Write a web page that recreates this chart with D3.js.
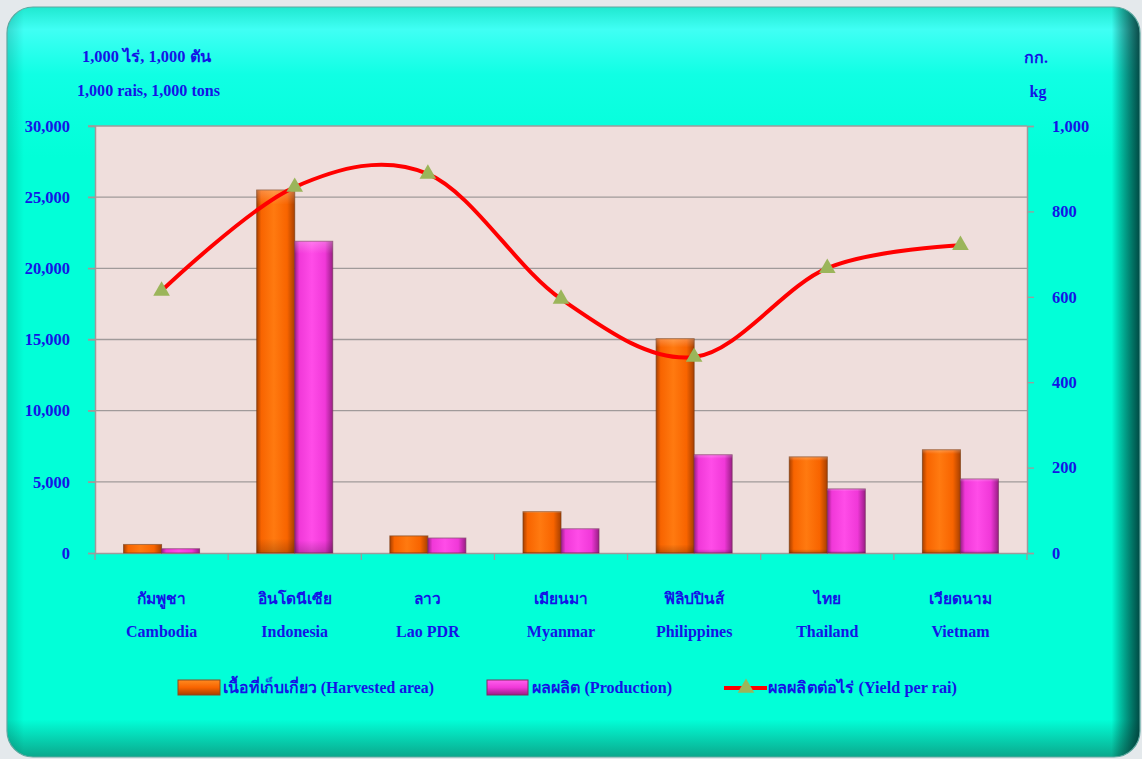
<!DOCTYPE html>
<html><head><meta charset="utf-8">
<script src="https://cdn.jsdelivr.net/npm/d3@7"></script>
<style>
html,body{margin:0;padding:0;background:#E4E9EC;}
svg{display:block;}
text{font-family:"Liberation Serif","Times New Roman",serif;font-weight:bold;fill:#1414E6;}
</style></head>
<body>
<svg id="chart" width="1142" height="759"></svg>
<script>
const categoriesTh = ["กัมพูชา","อินโดนีเซีย","ลาว","เมียนมา","ฟิลิปปินส์","ไทย","เวียดนาม"];
const categoriesEn = ["Cambodia","Indonesia","Lao PDR","Myanmar","Philippines","Thailand","Vietnam"];
const harvestedArea = [600, 25500, 1200, 2900, 15050, 6750, 7250];
const production = [300, 21900, 1050, 1700, 6900, 4500, 5200];
const yieldPerRai = [614, 857, 888, 595, 459, 667, 721];
const leftTicks = [0, 5000, 10000, 15000, 20000, 25000, 30000];
const rightTicks = [0, 200, 400, 600, 800, 1000];
const seriesNames = ["เนื้อที่เก็บเกี่ยว (Harvested area)", "ผลผลิต (Production)", "ผลผลิตต่อไร่ (Yield per rai)"];

const svg = d3.select("#chart");
const defs = svg.append("defs");

// Panel
const panel = {x:7, y:7, w:1133, h:750, r:26};
defs.append("clipPath").attr("id","panelClip").append("rect")
  .attr("x",panel.x).attr("y",panel.y).attr("width",panel.w).attr("height",panel.h).attr("rx",panel.r);
const gTop = defs.append("linearGradient").attr("id","gTop").attr("x1",0).attr("y1",0).attr("x2",0).attr("y2",1);
gTop.append("stop").attr("offset","0").attr("stop-color","#20E8D0");
gTop.append("stop").attr("offset","0.03").attr("stop-color","#40FFF4");
gTop.append("stop").attr("offset","0.09").attr("stop-color","#10FFE4");
gTop.append("stop").attr("offset","0.2").attr("stop-color","#02FFD8");
gTop.append("stop").attr("offset","0.95").attr("stop-color","#02FFD8");
gTop.append("stop").attr("offset","1").attr("stop-color","#0AA88C");
const gRight = defs.append("linearGradient").attr("id","gRight").attr("x1",0).attr("y1",0).attr("x2",1).attr("y2",0);
gRight.append("stop").attr("offset","0").attr("stop-color","#000").attr("stop-opacity",0.15);
gRight.append("stop").attr("offset","0.015").attr("stop-color","#000").attr("stop-opacity",0);
gRight.append("stop").attr("offset","0.975").attr("stop-color","#000").attr("stop-opacity",0);
gRight.append("stop").attr("offset","1").attr("stop-color","#002A2A").attr("stop-opacity",0.85);

const pg = svg.append("g").attr("clip-path","url(#panelClip)");
pg.append("rect").attr("x",panel.x).attr("y",panel.y).attr("width",panel.w).attr("height",panel.h).attr("fill","url(#gTop)");
pg.append("rect").attr("x",panel.x).attr("y",panel.y).attr("width",panel.w).attr("height",panel.h).attr("fill","url(#gRight)");
svg.append("rect").attr("x",panel.x).attr("y",panel.y).attr("width",panel.w).attr("height",panel.h).attr("rx",panel.r)
  .attr("fill","none").attr("stroke","#5FA8A0").attr("stroke-width",1.2);

// Plot geometry
const plot = {l:95, r:1027, t:126, b:553};
const x = d3.scaleBand().domain(categoriesEn).range([plot.l, plot.r]).paddingInner(0).paddingOuter(0);
const yL = d3.scaleLinear().domain([0,30000]).range([plot.b, plot.t]);
const yR = d3.scaleLinear().domain([0,1000]).range([plot.b, plot.t]);

svg.append("rect").attr("x",plot.l).attr("y",plot.t).attr("width",plot.r-plot.l).attr("height",plot.b-plot.t).attr("fill","#EFDEDC");

// gridlines
svg.append("g").selectAll("line").data(leftTicks.filter(d=>d>0)).join("line")
  .attr("x1",plot.l-7).attr("x2",plot.r).attr("y1",d=>yL(d)).attr("y2",d=>yL(d))
  .attr("stroke","#A09A9A").attr("stroke-width",1.3);

// Axes
const axL = svg.append("g").attr("transform",`translate(${plot.l},0)`)
  .call(d3.axisLeft(yL).tickValues(leftTicks).tickFormat(d3.format(",")).tickSize(7).tickPadding(18));
const axR = svg.append("g").attr("transform",`translate(${plot.r},0)`)
  .call(d3.axisRight(yR).tickValues(rightTicks).tickFormat(d3.format(",")).tickSize(7).tickPadding(18));
const axB = svg.append("g").attr("transform",`translate(0,${plot.b})`)
  .call(d3.axisBottom(x).tickSize(0).tickFormat(""));
[axL,axR,axB].forEach(a=>{
  a.selectAll("path.domain").attr("stroke","#A09A9A").attr("stroke-width",1.5);
  a.selectAll(".tick line").attr("stroke","#A09A9A").attr("stroke-width",1.3);
  a.selectAll(".tick text").attr("font-size",16.5).attr("font-family","'Liberation Serif',serif").attr("font-weight","bold").attr("fill","#1414E6");
});
// category boundary ticks
const bounds = d3.range(categoriesEn.length+1).map(i=>plot.l + i*x.step());
svg.append("g").selectAll("line").data(bounds).join("line")
  .attr("x1",d=>d).attr("x2",d=>d).attr("y1",plot.b).attr("y2",plot.b+7)
  .attr("stroke","#A09A9A").attr("stroke-width",1.3);

// Bar gradients
function barGrad(id, edge, mid, light){
  const g = defs.append("linearGradient").attr("id",id).attr("x1",0).attr("x2",1).attr("y1",0).attr("y2",0);
  g.append("stop").attr("offset","0").attr("stop-color",edge);
  g.append("stop").attr("offset","0.12").attr("stop-color",mid);
  g.append("stop").attr("offset","0.45").attr("stop-color",light);
  g.append("stop").attr("offset","0.8").attr("stop-color",mid);
  g.append("stop").attr("offset","1").attr("stop-color",edge);
}
barGrad("gOrange","#A84000","#F86400","#FF7A10");
barGrad("gPink","#9A1E86","#F038D8","#FF4CE8");
const gShade = defs.append("linearGradient").attr("id","gShade").attr("x1",0).attr("x2",0).attr("y1",0).attr("y2",1);
gShade.append("stop").attr("offset","0").attr("stop-color","#fff").attr("stop-opacity",0.25);
gShade.append("stop").attr("offset","0.04").attr("stop-color","#fff").attr("stop-opacity",0);
gShade.append("stop").attr("offset","0.96").attr("stop-color","#000").attr("stop-opacity",0);
gShade.append("stop").attr("offset","1").attr("stop-color","#000").attr("stop-opacity",0.2);
// legend swatch gradient (vertical bevel)
function swGrad(id, edge, mid, light){
  const g = defs.append("linearGradient").attr("id",id).attr("x1",0).attr("x2",0).attr("y1",0).attr("y2",1);
  g.append("stop").attr("offset","0").attr("stop-color",light);
  g.append("stop").attr("offset","0.5").attr("stop-color",mid);
  g.append("stop").attr("offset","1").attr("stop-color",edge);
}
swGrad("sOrange","#A84000","#F86400","#FF8A20");
swGrad("sPink","#9A1E86","#F038D8","#FF60EC");

const barW = 38;
const bars = [
  {vals: harvestedArea, fill:"url(#gOrange)", stroke:"#7A3A10", off:-barW},
  {vals: production, fill:"url(#gPink)", stroke:"#7A3060", off:0}
];
bars.forEach(s=>{
  const g = svg.append("g");
  const data = categoriesEn.map((c,i)=>({c, v:s.vals[i]}));
  g.selectAll("rect.b").data(data).join("rect").attr("class","b")
    .attr("x",d=>x(d.c)+x.bandwidth()/2+s.off).attr("width",barW)
    .attr("y",d=>yL(d.v)).attr("height",d=>plot.b-yL(d.v))
    .attr("fill",s.fill).attr("stroke",s.stroke).attr("stroke-width",1).attr("stroke-opacity",0.7);
  g.selectAll("rect.s").data(data).join("rect").attr("class","s")
    .attr("x",d=>x(d.c)+x.bandwidth()/2+s.off).attr("width",barW)
    .attr("y",d=>yL(d.v)).attr("height",d=>plot.b-yL(d.v))
    .attr("fill","url(#gShade)");
});

// Yield line
const pts = categoriesEn.map((c,i)=>[x(c)+x.bandwidth()/2, yR(yieldPerRai[i])]);
svg.append("path").attr("d", d3.line().curve(d3.curveCardinal.tension(0))(pts))
  .attr("fill","none").attr("stroke","#FF0000").attr("stroke-width",4);
const tri = d3.symbol().type(d3.symbolTriangle).size(120);
svg.append("g").selectAll("path").data(pts).join("path")
  .attr("transform",d=>`translate(${d[0]},${d[1]})`).attr("d",tri).attr("fill","#9BB55A");

// Category labels
svg.append("g").selectAll("text").data(categoriesTh).join("text")
  .attr("x",(d,i)=>x(categoriesEn[i])+x.bandwidth()/2).attr("y",604)
  .attr("text-anchor","middle").attr("font-size",15.5).text(d=>d);
svg.append("g").selectAll("text").data(categoriesEn).join("text")
  .attr("x",d=>x(d)+x.bandwidth()/2).attr("y",637)
  .attr("text-anchor","middle").attr("font-size",16).text(d=>d);

// Axis unit labels
svg.append("text").attr("x",82).attr("y",62).attr("font-size",16).attr("textLength",129).attr("lengthAdjust","spacingAndGlyphs").text("1,000 ไร่,  1,000 ตัน");
svg.append("text").attr("x",77).attr("y",96).attr("font-size",16).attr("textLength",143).attr("lengthAdjust","spacingAndGlyphs").text("1,000 rais, 1,000 tons");
svg.append("text").attr("x",1036).attr("y",63).attr("font-size",16).attr("text-anchor","middle").text("กก.");
svg.append("text").attr("x",1038).attr("y",97).attr("font-size",16).attr("text-anchor","middle").text("kg");

// Legend
const lg = svg.append("g");
const lgY = 688;
lg.append("rect").attr("x",178).attr("y",lgY-8).attr("width",42).attr("height",15).attr("fill","url(#sOrange)").attr("stroke","#8A4A20");
lg.append("text").attr("x",223).attr("y",lgY+5).attr("font-size",16).attr("textLength",211).attr("lengthAdjust","spacingAndGlyphs").text(seriesNames[0]);
lg.append("rect").attr("x",487).attr("y",lgY-8).attr("width",41).attr("height",15).attr("fill","url(#sPink)").attr("stroke","#7A3060");
lg.append("text").attr("x",532).attr("y",lgY+5).attr("font-size",16).attr("textLength",140).attr("lengthAdjust","spacingAndGlyphs").text(seriesNames[1]);
lg.append("line").attr("x1",724).attr("x2",767).attr("y1",lgY).attr("y2",lgY).attr("stroke","#FF0000").attr("stroke-width",4);
lg.append("path").attr("transform",`translate(746,${lgY})`).attr("d",tri).attr("fill","#9BB55A");
lg.append("text").attr("x",768).attr("y",lgY+5).attr("font-size",16).attr("textLength",189).attr("lengthAdjust","spacingAndGlyphs").text(seriesNames[2]);
</script>
</body></html>
